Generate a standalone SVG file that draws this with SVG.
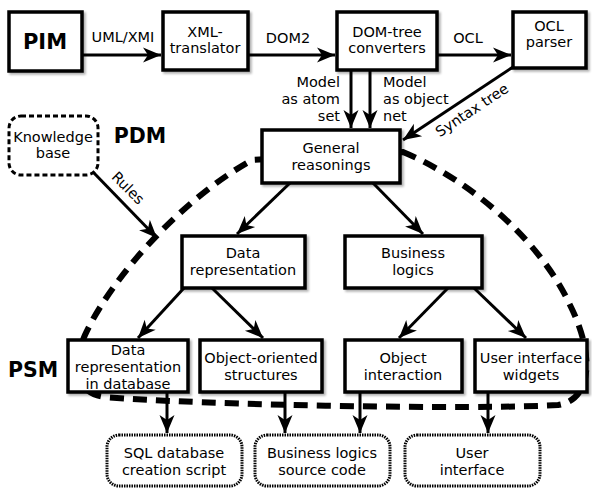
<svg xmlns="http://www.w3.org/2000/svg" width="592" height="488" viewBox="0 0 592 488">
<style>
text{font-family:"DejaVu Sans","Liberation Sans",sans-serif;font-size:14.5px;fill:#000;text-anchor:middle}
.b{font-weight:bold;font-size:21px}
.box{fill:#fff;stroke:#000;stroke-width:3.5;filter:url(#sh)}
.out{fill:#fff;stroke:#000;stroke-width:3;stroke-dasharray:1.5 1}
.kb{fill:#fff;stroke:#000;stroke-width:3;stroke-dasharray:5 3}
.c{fill:none;stroke:#000;stroke-width:3;marker-end:url(#ah)}
.lab{text-anchor:start}
.r{text-anchor:end}
</style>
<defs>
<filter id="sh" x="-10%" y="-10%" width="130%" height="130%">
<feDropShadow dx="2" dy="2" stdDeviation="1" flood-color="#000" flood-opacity="0.3"/>
</filter>
<marker id="ah" viewBox="-19 -8 20 16" refX="0" refY="0" markerWidth="20" markerHeight="16" markerUnits="userSpaceOnUse" orient="auto">
<path d="M0,0 L-18,-7.5 L-13,0 L-18,7.5 Z" fill="#000"/>
</marker>
</defs>
<rect width="592" height="488" fill="#fff"/>

<!-- PSM/PDM dashed region -->
<path id="region" d="M403,152 C470,180 540,240 570,305 C595,355 592,400 558,405 C480,410 200,405 105,397 C75,394 72,365 85,335 C110,280 180,200 252,160 Z" fill="none" stroke="#000" stroke-width="6" stroke-dasharray="14 9"/>

<g id="connectors">
<path class="c" d="M82,55 L161,55"/>
<path class="c" d="M248,55 L335,55"/>
<path class="c" d="M437,55 L511,55"/>
<path class="c" d="M351,70 L351,128"/>
<path class="c" d="M370,70 L370,128"/>
<path class="c" d="M513,67 L403,140"/>
<path class="c" d="M93,172 L157,238"/>
<path class="c" d="M290,183 L237,234"/>
<path class="c" d="M373,183 L423,234"/>
<path class="c" d="M184,288 L138,338"/>
<path class="c" d="M212,288 L263,338"/>
<path class="c" d="M448,288 L399,338"/>
<path class="c" d="M474,288 L526,338"/>
<path class="c" d="M167,392 L167,433"/>
<path class="c" d="M285,392 L285,433"/>
<path class="c" d="M360,392 L360,433"/>
<path class="c" d="M488,392 L488,433"/>
<text x="123" y="42">UML/XMI</text>
<text x="288" y="43">DOM2</text>
<text x="468" y="43">OCL</text>
<text class="r" x="340" y="87">Model</text>
<text class="r" x="340" y="104">as atom</text>
<text class="r" x="340" y="121">set</text>
<text class="lab" x="383" y="87">Model</text>
<text class="lab" x="383" y="104">as object</text>
<text class="lab" x="383" y="121">net</text>
<text transform="translate(472,110) rotate(-33.6)" y="5">Syntax tree</text>
<text transform="translate(128,188) rotate(45)" y="5">Rules</text>
</g>

<g id="pim"><rect class="box" x="9" y="12" width="73" height="59"/><text class="b" x="45" y="49">PIM</text></g>
<g id="xml"><rect class="box" x="163" y="12" width="85" height="58"/><text x="205" y="37">XML-</text><text x="205" y="53">translator</text></g>
<g id="dom"><rect class="box" x="337" y="12" width="100" height="58"/><text x="387" y="37">DOM-tree</text><text x="387" y="53">converters</text></g>
<g id="ocl"><rect class="box" x="513" y="12" width="73" height="56"/><text x="549" y="31">OCL</text><text x="549" y="47">parser</text></g>

<g id="kb"><rect class="kb" x="9" y="116" width="89" height="59" rx="12"/><text x="53" y="142">Knowledge</text><text x="53" y="158">base</text></g>
<text class="b" x="140" y="143" style="font-size:20.5px">PDM</text>
<text class="b" x="33" y="377" style="font-size:20.5px">PSM</text>

<g id="general"><rect class="box" x="262" y="130" width="138" height="53"/><text x="331" y="153">General</text><text x="331" y="170">reasonings</text></g>
<g id="datarep"><rect class="box" x="182" y="236" width="123" height="52"/><text x="243" y="258">Data</text><text x="243" y="275">representation</text></g>
<g id="buslog"><rect class="box" x="345" y="236" width="137" height="52"/><text x="413" y="258">Business</text><text x="413" y="275">logics</text></g>

<g id="datadb"><rect class="box" x="68" y="340" width="120" height="52"/><text x="128" y="355">Data</text><text x="128" y="372">representation</text><text x="128" y="389">in database</text></g>
<g id="oos"><rect class="box" x="200" y="340" width="122" height="52"/><text x="261" y="363">Object-oriented</text><text x="261" y="380">structures</text></g>
<g id="oi"><rect class="box" x="345" y="340" width="117" height="52"/><text x="403" y="363">Object</text><text x="403" y="380">interaction</text></g>
<g id="uiw"><rect class="box" x="475" y="340" width="112" height="52"/><text x="531" y="363">User interface</text><text x="531" y="380">widgets</text></g>

<g id="sql"><rect class="out" x="107" y="435" width="135" height="51" rx="12"/><text x="174" y="458">SQL database</text><text x="174" y="475">creation script</text></g>
<g id="bsrc"><rect class="out" x="255" y="435" width="135" height="51" rx="12"/><text x="322" y="458">Business logics</text><text x="322" y="475">source code</text></g>
<g id="ui"><rect class="out" x="405" y="435" width="135" height="51" rx="12"/><text x="472" y="458">User</text><text x="472" y="475">interface</text></g>
</svg>
